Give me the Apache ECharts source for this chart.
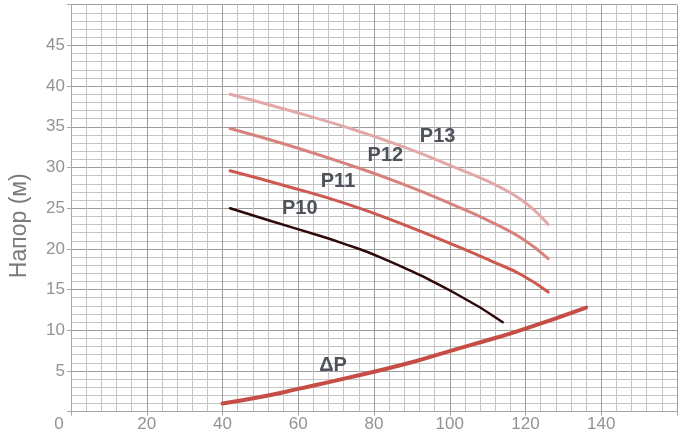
<!DOCTYPE html>
<html>
<head>
<meta charset="utf-8">
<script src="https://cdn.jsdelivr.net/npm/echarts@6/dist/echarts.min.js"></script>
<style>html,body{margin:0;padding:0;background:#fff}#c{width:680px;height:439px}</style>
</head>
<body>
<div id="c"></div>
<script>
// Flow values (x) and head values (y)
const xP13 = [42, 57, 73, 88, 102, 111, 119, 126];
const yP13 = [39.0, 37.1, 34.9, 32.5, 29.9, 28.1, 26.0, 23.0];
const xP12 = [42, 57, 73, 88, 102, 111, 119, 126];
const yP12 = [34.8, 32.8, 30.4, 27.9, 25.2, 23.3, 21.3, 18.8];
const xP11 = [42, 57, 73, 88, 102, 111, 119, 126];
const yP11 = [29.6, 27.7, 25.5, 22.95, 20.3, 18.5, 16.8, 14.7];
const xP10 = [42, 53, 65, 71, 82, 102, 114];
const yP10 = [25.0, 23.4, 21.7, 20.8, 18.9, 14.4, 11.0];
const xDP = [40, 51, 60, 73, 89, 100, 112, 120, 136];
const yDP = [1.0, 1.9, 2.8, 4.15, 5.95, 7.45, 9.05, 10.2, 12.8];

const labelNames = ['P13', 'P12', 'P11', 'P10', 'ΔP'];
const labelX = [96.8, 83.0, 70.5, 60.4, 69.2];
const labelY = [33.8, 31.5, 28.3, 25.0, 5.7];

const xTickLabels = [0, 20, 40, 60, 80, 100, 120, 140];
const yTickLabels = [5, 10, 15, 20, 25, 30, 35, 40, 45];
const yTitle = 'Напор (м)';

const pairs = (xs, ys) => xs.map((x, i) => [x, ys[i]]);
const FONT = 'Liberation Sans, Arial, sans-serif';

const chart = echarts.init(document.getElementById('c'), null, {renderer: 'canvas'});
const lineSeries = (name, xs, ys, color, width) => ({
  name, type: 'line', data: pairs(xs, ys), smooth: 0.5,
  showSymbol: false, symbol: 'none',
  lineStyle: {color, width, cap: 'round'}, z: 5, animation: false
});

chart.setOption({
  animation: false,
  backgroundColor: '#fff',
  grid: {left: 66.7, top: 4.7, width: 618.4, height: 407, containLabel: false},
  xAxis: {
    type: 'value', min: 0, max: 160, interval: 20,
    axisLine: {show: true, lineStyle: {color: '#a8a8a8', width: 1}},
    axisTick: {show: true, length: 4, lineStyle: {color: '#a8a8a8'}},
    axisLabel: {
      color: '#939393', fontSize: 17, fontFamily: FONT, margin: 4,
      formatter: v => xTickLabels.includes(v) ? (v === 0 ? '{z|0}' : String(v)) : '',
      rich: {z: {padding: [0, 24, 0, 0], color: '#939393', fontSize: 17, fontFamily: FONT}}
    },
    splitLine: {show: true, lineStyle: {color: '#9c9c9c', width: 1}},
    minorTick: {show: false, splitNumber: 5},
    minorSplitLine: {show: true, lineStyle: {color: '#c4c4c4', width: 1}}
  },
  yAxis: {
    type: 'value', min: 0, max: 50, interval: 5,
    name: yTitle, nameLocation: 'middle', nameGap: 40,
    nameTextStyle: {color: '#7a7a7a', fontSize: 23, fontFamily: FONT, padding: [0, 35, 0, 0]},
    axisLine: {show: true, lineStyle: {color: '#a8a8a8', width: 1}},
    axisTick: {show: true, length: 4, lineStyle: {color: '#a8a8a8'}},
    axisLabel: {
      color: '#939393', fontSize: 17, fontFamily: FONT, margin: 6,
      formatter: v => yTickLabels.includes(v) ? String(v) : ''
    },
    splitLine: {show: true, lineStyle: {color: '#9c9c9c', width: 1}},
    minorTick: {show: false, splitNumber: 5},
    minorSplitLine: {show: true, lineStyle: {color: '#c4c4c4', width: 1}}
  },
  series: [
    lineSeries('P13', xP13, yP13, '#e2a9a8', 3),
    lineSeries('P12', xP12, yP12, '#d8827d', 3),
    lineSeries('P11', xP11, yP11, '#cd5850', 3),
    lineSeries('P10', xP10, yP10, '#2e0909', 2.5),
    lineSeries('ΔP', xDP, yDP, '#c64d46', 4),
    {
      name: 'labels', type: 'scatter', symbolSize: 1, z: 10, silent: true,
      itemStyle: {opacity: 0},
      data: labelNames.map((n, i) => ({name: n, value: [labelX[i], labelY[i]]})),
      label: {
        show: true, position: 'inside', formatter: p => p.name,
        color: '#4e5359', textBorderWidth: 0, opacity: 1,
        fontSize: 20, fontWeight: 'bold', fontFamily: FONT
      }
    }
  ]
});
</script>
</body>
</html>
